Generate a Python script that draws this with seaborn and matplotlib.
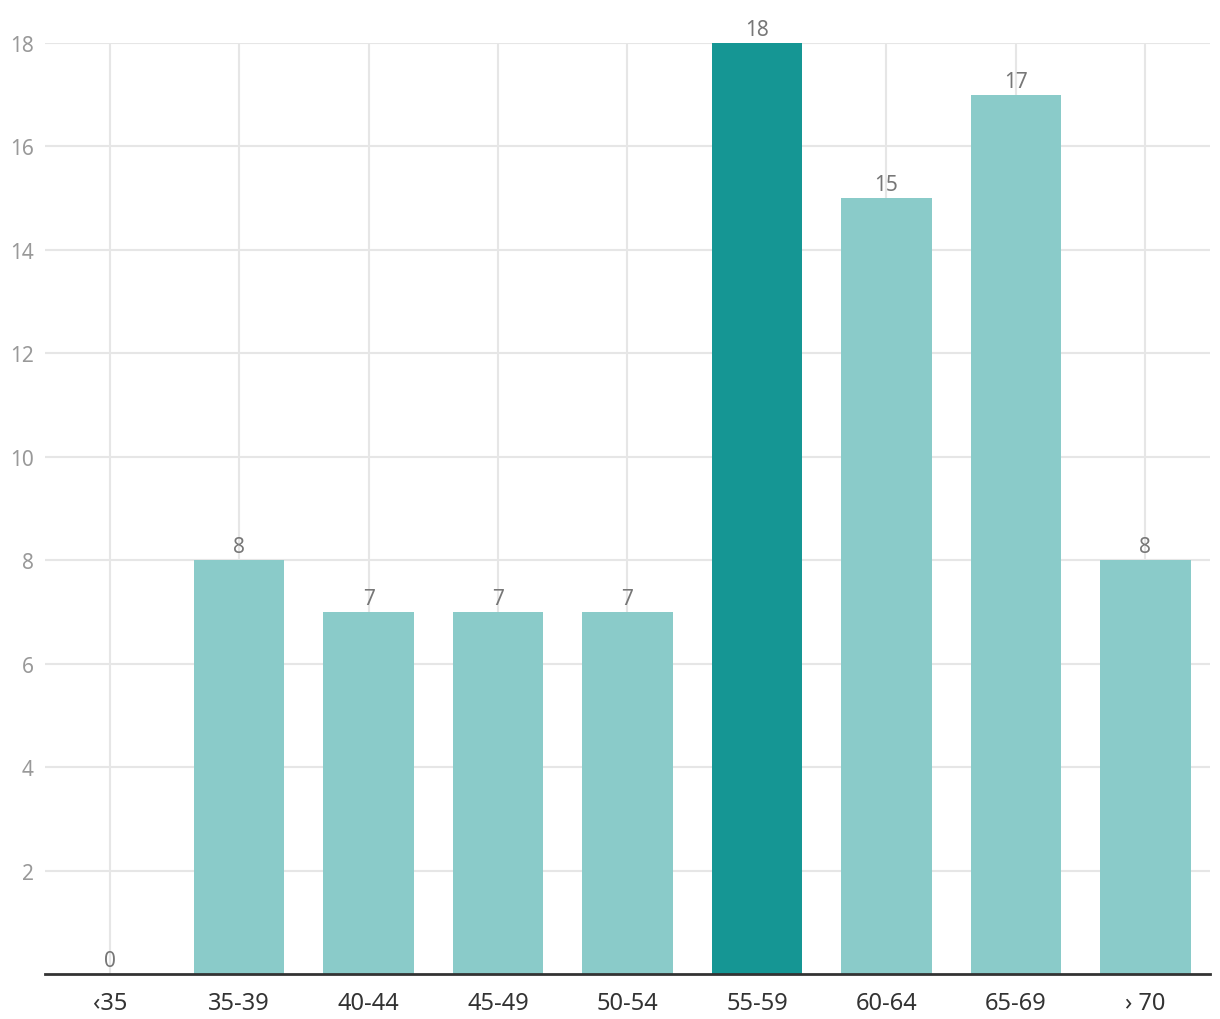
import matplotlib
matplotlib.use("Agg")
import matplotlib.pyplot as plt
import seaborn as sns
import pandas as pd

categories = ["‹35", "35-39", "40-44", "45-49", "50-54", "55-59", "60-64", "65-69", "› 70"]
values = [0, 8, 7, 7, 7, 18, 15, 17, 8]
highlight = "55-59"
yticks = [2, 4, 6, 8, 10, 12, 14, 16, 18]

LIGHT = "#8ACBC9"
DARK = "#159694"

sns.set_theme(style="white")
plt.rcParams['font.family'] = ['Noto Sans', 'DejaVu Sans']

df = pd.DataFrame({"cat": categories, "val": values})
palette = {c: (DARK if c == highlight else LIGHT) for c in categories}

fig = plt.figure(figsize=(12.2, 10.2), dpi=100)
ax = fig.add_axes([45/1220, 1-975/1020, (1210-45)/1220, (975-44)/1020])

sns.barplot(data=df, x="cat", y="val", hue="cat", palette=palette,
            width=0.7, legend=False, saturation=1, ax=ax, zorder=2,
            linewidth=0, edgecolor="none")

ax.set_xlim(-0.5, len(categories) - 0.5)
ax.set_ylim(0, 18)
ax.set_yticks(yticks)
ax.set_xlabel("")
ax.set_ylabel("")

ax.grid(True, axis="both", color="#e6e6e6", linewidth=1.5, zorder=0)
ax.set_axisbelow(True)

for s in ["top", "right", "left"]:
    ax.spines[s].set_visible(False)
ax.spines["bottom"].set_color("#333333")
ax.spines["bottom"].set_linewidth(2)
ax.spines["bottom"].set_zorder(5)

ax.tick_params(axis="x", length=0, pad=12, labelsize=17, labelcolor="#333333")
ax.tick_params(axis="y", length=0, pad=8, labelsize=15, labelcolor="#999999")

for cont in ax.containers:
    ax.bar_label(cont, fmt="%g", padding=2, fontsize=15, color="#777777", clip_on=False)

fig.savefig("out.png", dpi=100)
